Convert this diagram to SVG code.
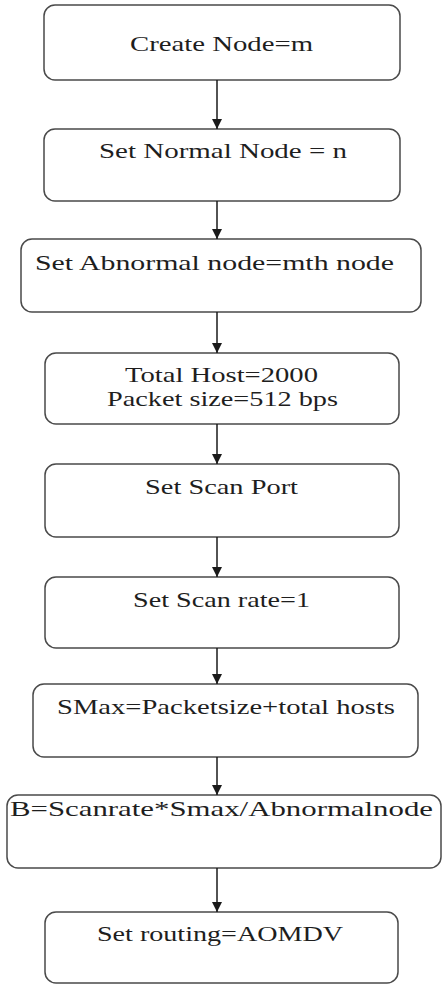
<svg xmlns="http://www.w3.org/2000/svg" width="444" height="986" viewBox="0 0 444 986">
<style>
.box{fill:#fff;stroke:#4a4a4a;stroke-width:1.5}
.t{font-family:"Liberation Serif","Times New Roman",serif;font-size:21px;fill:#1e1e1e}
.c{stroke:#1a1a1a;stroke-width:1.5;fill:none}
</style>
<defs>
<marker id="ah" viewBox="0 0 10 10" refX="10" refY="5" markerWidth="10" markerHeight="10" markerUnits="userSpaceOnUse" orient="auto">
<path d="M0,0 L10,5 L0,10 Z" fill="#1a1a1a"/>
</marker>
</defs>
<rect width="444" height="986" fill="#fff"/>
<g id="n1"><rect class="box" x="44" y="5" width="356" height="75" rx="11"/><text class="t" x="130" y="51" textLength="183" lengthAdjust="spacingAndGlyphs">Create Node=m</text></g>
<g id="n2"><rect class="box" x="44" y="129" width="356" height="72" rx="11"/><text class="t" x="99" y="158" textLength="248" lengthAdjust="spacingAndGlyphs">Set Normal Node = n</text></g>
<g id="n3"><rect class="box" x="21" y="239" width="400" height="73" rx="11"/><text class="t" x="35" y="270" textLength="359" lengthAdjust="spacingAndGlyphs">Set Abnormal node=mth node</text></g>
<g id="n4"><rect class="box" x="45" y="353" width="354" height="71" rx="11"/><text class="t" x="125" y="382" textLength="193" lengthAdjust="spacingAndGlyphs">Total Host=2000</text><text class="t" x="107" y="406" textLength="231" lengthAdjust="spacingAndGlyphs">Packet size=512 bps</text></g>
<g id="n5"><rect class="box" x="45" y="464" width="354" height="73" rx="11"/><text class="t" x="145" y="494" textLength="153" lengthAdjust="spacingAndGlyphs">Set Scan Port</text></g>
<g id="n6"><rect class="box" x="45" y="577" width="354" height="71" rx="11"/><text class="t" x="133" y="607" textLength="177" lengthAdjust="spacingAndGlyphs">Set Scan rate=1</text></g>
<g id="n7"><rect class="box" x="33" y="684" width="385" height="73" rx="11"/><text class="t" x="57" y="714" textLength="338" lengthAdjust="spacingAndGlyphs">SMax=Packetsize+total hosts</text></g>
<g id="n8"><rect class="box" x="7" y="795" width="434" height="73" rx="11"/><text class="t" x="10" y="816" textLength="423" lengthAdjust="spacingAndGlyphs">B=Scanrate*Smax/Abnormalnode</text></g>
<g id="n9"><rect class="box" x="45" y="912" width="353" height="71" rx="11"/><text class="t" x="97" y="941" textLength="246" lengthAdjust="spacingAndGlyphs">Set routing=AOMDV</text></g>
<g id="connectors">
<line class="c" x1="217" y1="80" x2="217" y2="129" marker-end="url(#ah)"/>
<line class="c" x1="217" y1="201" x2="217" y2="239" marker-end="url(#ah)"/>
<line class="c" x1="217" y1="312" x2="217" y2="353" marker-end="url(#ah)"/>
<line class="c" x1="217" y1="424" x2="217" y2="464" marker-end="url(#ah)"/>
<line class="c" x1="217" y1="537" x2="217" y2="577" marker-end="url(#ah)"/>
<line class="c" x1="217" y1="648" x2="217" y2="684" marker-end="url(#ah)"/>
<line class="c" x1="217" y1="757" x2="217" y2="795" marker-end="url(#ah)"/>
<line class="c" x1="217" y1="868" x2="217" y2="912" marker-end="url(#ah)"/>
</g>
</svg>
